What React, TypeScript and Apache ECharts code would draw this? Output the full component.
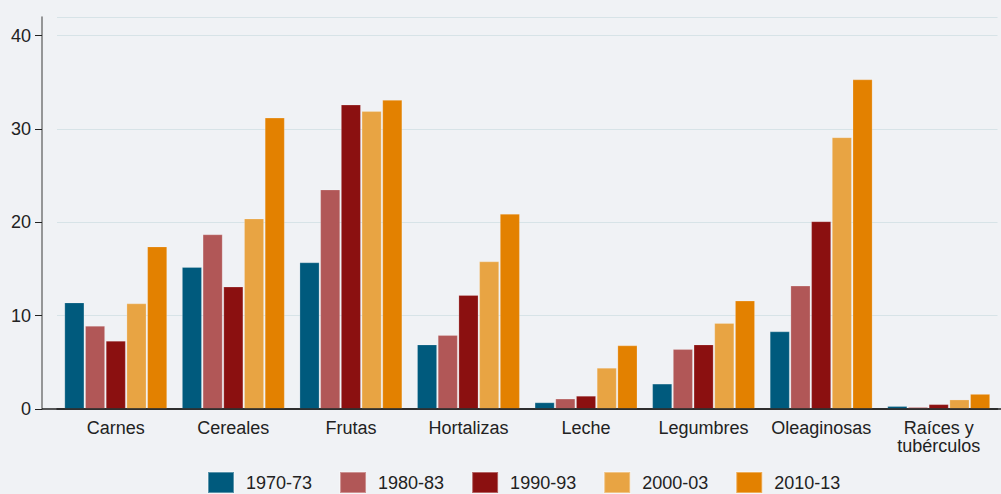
import React, { useEffect, useRef } from "react";
import * as echarts from "echarts";

const categories = ["Carnes", "Cereales", "Frutas", "Hortalizas", "Leche", "Legumbres", "Oleaginosas", "Raíces y\ntubérculos"];
const seriesNames = ["1970-73", "1980-83", "1990-93", "2000-03", "2010-13"];
const s1970 = [11.4, 15.2, 15.7, 6.9, 0.7, 2.7, 8.3, 0.3];
const s1980 = [8.9, 18.7, 23.5, 7.9, 1.1, 6.4, 13.2, 0.2];
const s1990 = [7.3, 13.1, 32.6, 12.2, 1.4, 6.9, 20.1, 0.5];
const s2000 = [11.3, 20.4, 31.9, 15.8, 4.4, 9.2, 29.1, 1.0];
const s2010 = [17.4, 31.2, 33.1, 20.9, 6.8, 11.6, 35.3, 1.6];
const colors = ["#005a7d", "#b15757", "#8b1010", "#e8a443", "#e38100"];
const FONT = "Liberation Sans, Arial, sans-serif";

export default function App() {
  const ref = useRef<HTMLDivElement>(null);
  useEffect(() => {
    const chart = echarts.init(ref.current!, undefined, { renderer: "svg" });
    const data = [s1970, s1980, s1990, s2000, s2010];
    chart.setOption({
      animation: false,
      backgroundColor: "#f0f2f5",
      textStyle: { fontFamily: FONT },
      grid: { left: 57, right: 3.5, top: 17, bottom: 85 },
      legend: {
        left: 202,
        top: 466,
        padding: 5,
        itemWidth: 26,
        itemHeight: 21,
        itemGap: 27,
        icon: "rect",
        textStyle: { fontSize: 18, color: "#222", fontFamily: FONT, padding: [0, 0, 0, 7] },
        data: seriesNames,
      },
      xAxis: {
        type: "category",
        data: categories,
        axisLine: { lineStyle: { color: "#222", width: 1.5 } },
        axisTick: { show: false },
        axisLabel: { fontSize: 18, color: "#222", margin: 10, lineHeight: 18, fontFamily: FONT, interval: 0 },
      },
      yAxis: {
        type: "value",
        min: 0,
        max: 42,
        interval: 10,
        offset: 15,
        axisLine: { show: true, lineStyle: { color: "#777", width: 1.5 } },
        axisTick: { show: true, length: 7, lineStyle: { color: "#222" } },
        axisLabel: { fontSize: 18, color: "#222", margin: 11, fontFamily: FONT, showMaxLabel: false },
        splitLine: { lineStyle: { color: "#d7e3e7", width: 1 } },
      },
      series: seriesNames.map((n, i) => ({
        name: n,
        type: "bar",
        data: data[i],
        barCategoryGap: "12.8%",
        barGap: "5%",
        itemStyle: { color: colors[i], borderColor: "rgba(255,255,255,0.35)", borderWidth: 0.6 },
      })),
    });
    const y0 = chart.convertToPixel({ yAxisIndex: 0 }, 0) as number;
    chart.setOption({
      graphic: [
        { type: "line", shape: { x1: 42, y1: y0, x2: 1001, y2: y0 }, style: { stroke: "#222", lineWidth: 1.5 }, z: 10 },
      ],
    });
    return () => chart.dispose();
  }, []);
  return <div ref={ref} style={{ position: "absolute", left: 0, top: 0, width: 1001, height: 494 }} />;
}
